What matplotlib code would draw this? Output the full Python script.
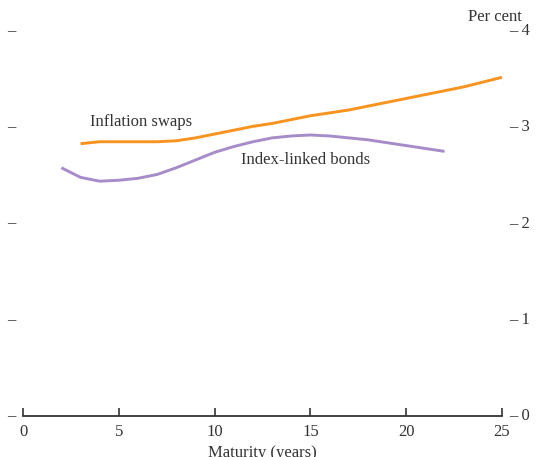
import matplotlib.pyplot as plt

plt.rcParams["font.family"] = ["Liberation Serif", "DejaVu Serif"]

# values
swap_years = list(range(3, 26))
swap_rates = [2.83, 2.85, 2.85, 2.85, 2.85, 2.86, 2.89, 2.93, 2.97, 3.01, 3.04,
              3.08, 3.12, 3.15, 3.18, 3.22, 3.26, 3.30, 3.34, 3.38, 3.42, 3.47, 3.52]

bond_years = list(range(2, 23))
bond_rates = [2.58, 2.48, 2.44, 2.45, 2.47, 2.51, 2.58, 2.66, 2.74, 2.80, 2.85,
              2.89, 2.91, 2.92, 2.91, 2.89, 2.87, 2.84, 2.81, 2.78, 2.75]

x_ticks = [0, 5, 10, 15, 20, 25]
y_ticks = [0, 1, 2, 3, 4]

orange = "#F7931E"
purple = "#A68CC9"
ink = "#333333"

fig = plt.figure(figsize=(5.39, 4.57), dpi=100)
ax = fig.add_axes([0.0427, 0.0897, 0.8887, 0.8423])

ax.plot(swap_years, swap_rates, color=orange, linewidth=2.1, solid_capstyle="butt")
ax.plot(bond_years, bond_rates, color=purple, linewidth=2.1, solid_capstyle="butt")

ax.text(3.5, 3.06, "Inflation swaps", fontsize=12, color=ink, va="center")
ax.text(11.4, 2.66, "Index-linked bonds", fontsize=12, color=ink, va="center")

ax.set_xlim(0, 25)
ax.set_ylim(0, 4)
for side in ["top", "left", "right"]:
    ax.spines[side].set_visible(False)
ax.spines["bottom"].set_color(ink)
ax.spines["bottom"].set_linewidth(1.3)

ax.set_xticks(x_ticks)
ax.set_xticklabels([str(t) for t in x_ticks], fontsize=12, color=ink)
ax.tick_params(axis="x", direction="in", length=6, width=1.2, color=ink, pad=6)
ax.set_yticks([])
ax.set_xlabel("Maturity (years)", fontsize=12, color=ink, labelpad=3)

# tick dashes drawn as text on both sides, values on the right
ytr = ax.get_yaxis_transform()
for v in y_ticks:
    ax.text(-0.025, v, "\u2013", transform=ytr, ha="center", va="center",
            fontsize=12, color=ink)
    ax.text(1.015, v, "\u2013 " + str(v), transform=ytr, ha="left", va="center",
            fontsize=12, color=ink)

fig.text(0.969, 0.963, "Per cent", ha="right", va="center", fontsize=12, color=ink)

fig.savefig("out.png", dpi=100)
